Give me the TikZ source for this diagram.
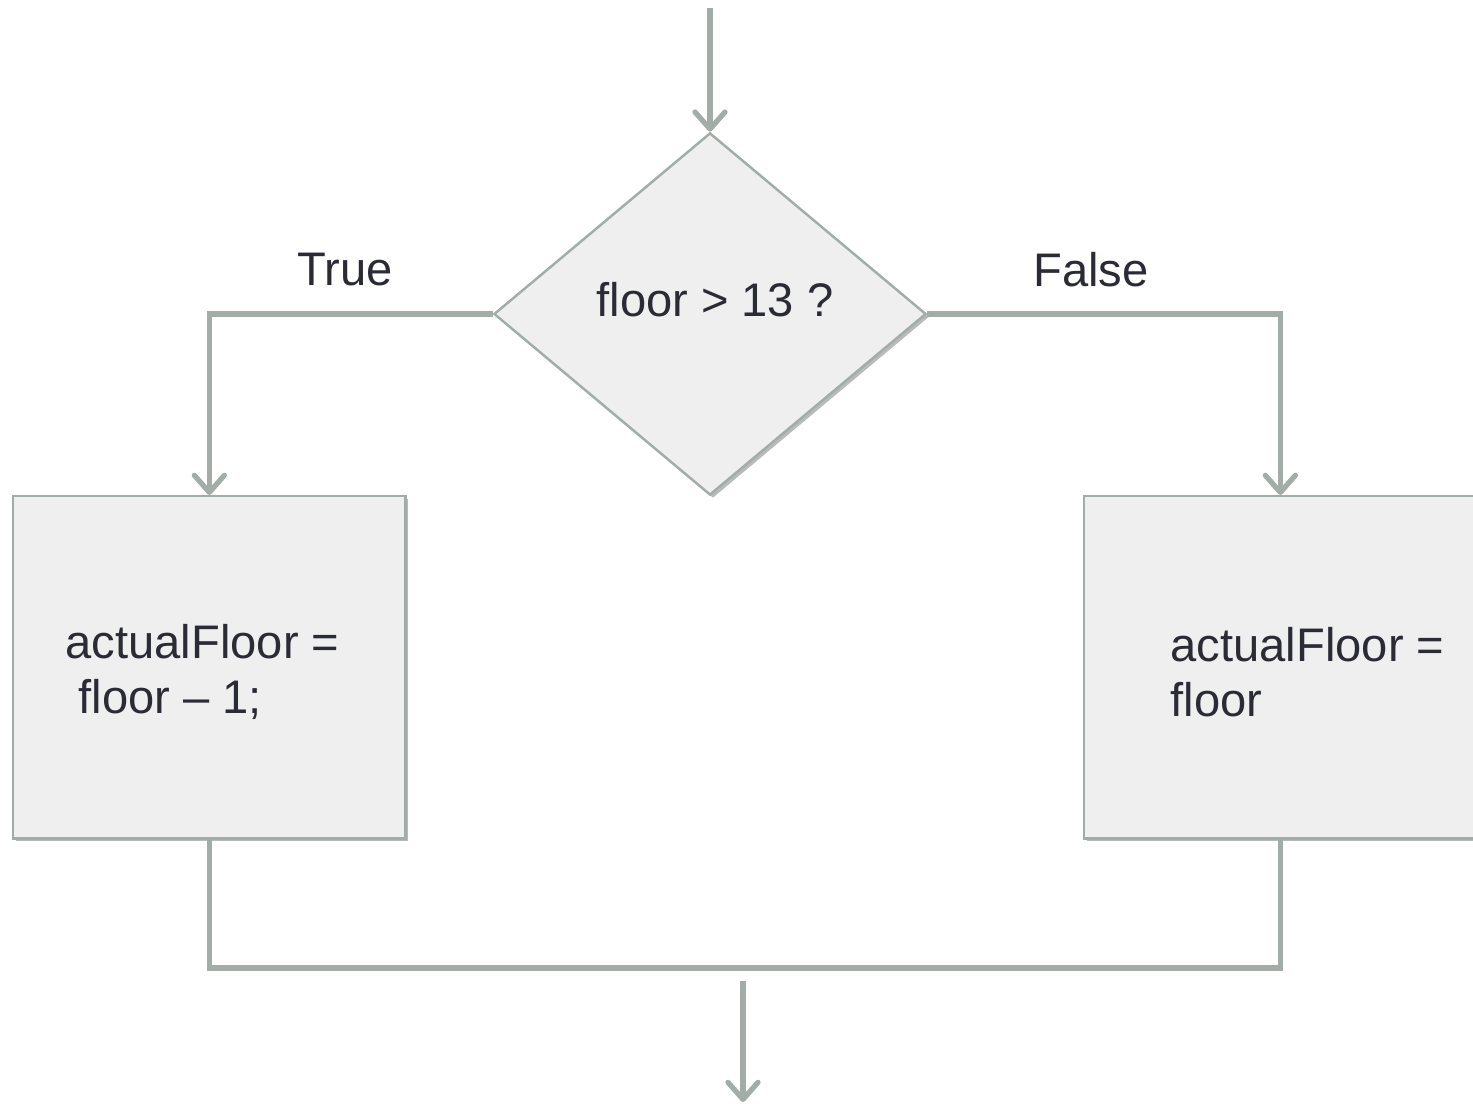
\documentclass[tikz,border=0pt]{standalone}
\usepackage{fontspec}
\setmainfont{Liberation Sans}
\usetikzlibrary{arrows.meta,shapes.geometric,shadows}
\definecolor{flowline}{HTML}{A3ADA7}
\definecolor{flowfill}{HTML}{EEEFEE}
\definecolor{flowtext}{HTML}{2B2B36}
\tikzset{
  boxshadow/.style={drop shadow={shadow xshift=0.03cm, shadow yshift=-0.03cm, fill=black!45, opacity=0.6}},
  stepbox/.style={draw=flowline, line width=0.7pt, fill=flowfill, minimum width=3.92cm, minimum height=3.42cm, inner sep=0pt, boxshadow},
  decision/.style={diamond, draw=flowline, line width=0.7pt, fill=flowfill, minimum width=4.32cm, minimum height=3.62cm, inner sep=0pt, boxshadow},
  txt/.style={text=flowtext, font=\fontsize{13.4}{15.6}\selectfont, inner sep=0pt},
  conn/.style={draw=flowline, line width=1.5pt, -{Straight Barb[round, length=0.17cm, width=0.3cm, line width=1.5pt]}},
  joinline/.style={draw=flowline, line width=1.5pt}
}
\begin{document}
\begin{tikzpicture}[x=0.01cm, y=-0.01cm]
  \useasboundingbox (0,0) rectangle (1473,1104);
  % decision and the two assignment boxes
  \node[decision] (dec) at (710,314) {};
  \node[txt] (cond) at (715,300) {floor > 13 ?};
  \node[stepbox, anchor=north west] (lbox) at (12,495) {};
  \node[stepbox, anchor=north west] (rbox) at (1083,495) {};
  \node[txt, align=left, anchor=west] (ltext) at (65,672) {actualFloor =\\\hspace{0.13cm}floor -- 1;};
  \node[txt, align=left, anchor=west] (rtext) at (1170,672) {actualFloor =\\floor};
  % branch labels
  \node[txt] (ltrue) at (345,270) {True};
  \node[txt] (rfalse) at (1091,270) {False};
  % entry, merge and exit points
  \coordinate (entry) at (710,8);
  \coordinate (merge) at (rbox.south |- 0,968);
  \coordinate (exitA) at (743,981);
  \coordinate (exitB) at (743,1102);
  % connectors
  \draw[conn] (entry) -- (dec.north);
  \draw[conn] (dec.west) -| (lbox.north);
  \draw[conn] (dec.east) -| (rbox.north);
  \draw[joinline] (lbox.south) |- (merge) -- (rbox.south);
  \draw[conn] (exitA) -- (exitB);
\end{tikzpicture}
\end{document}
